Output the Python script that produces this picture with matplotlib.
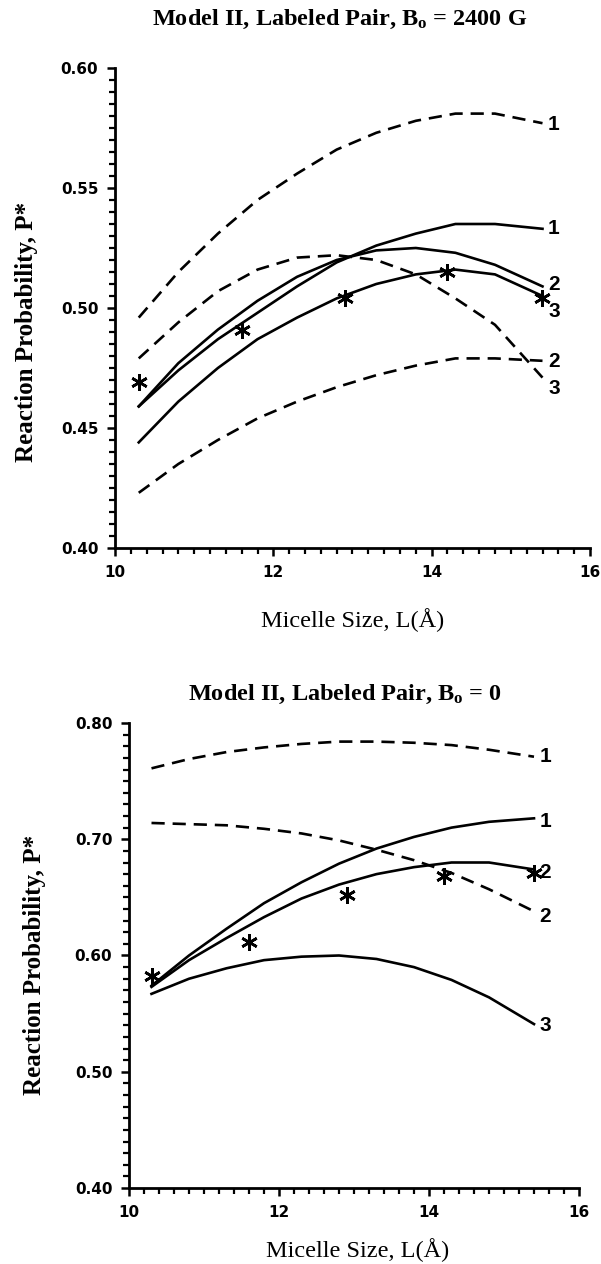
import matplotlib
matplotlib.use("Agg")
import matplotlib.pyplot as plt
from matplotlib.ticker import MultipleLocator

# micelle size grid used for the curves
L = [10.3, 10.8, 11.3, 11.8, 12.3, 12.8, 13.3, 13.8, 14.3, 14.8, 15.4]

# top panel: B0 = 2400 G
top_dash1 = [0.496, 0.515, 0.531, 0.545, 0.556, 0.566, 0.573, 0.578, 0.581, 0.581, 0.577]
top_dash2 = [0.423, 0.435, 0.445, 0.454, 0.461, 0.467, 0.472, 0.476, 0.479, 0.479, 0.478]
top_dash3 = [0.479, 0.494, 0.507, 0.516, 0.521, 0.522, 0.520, 0.514, 0.504, 0.493, 0.471]
top_solid1 = [0.459, 0.474, 0.487, 0.498, 0.509, 0.519, 0.526, 0.531, 0.535, 0.535, 0.533]
top_solid2 = [0.459, 0.477, 0.491, 0.503, 0.513, 0.520, 0.524, 0.525, 0.523, 0.518, 0.509]
top_solid3 = [0.444, 0.461, 0.475, 0.487, 0.496, 0.504, 0.510, 0.514, 0.516, 0.514, 0.505]

# simulation points (asterisks)
L_sim = [10.3, 11.6, 12.9, 14.2, 15.4]
top_sim = [0.469, 0.491, 0.504, 0.515, 0.504]

# bottom panel: B0 = 0
bot_dash1 = [0.761, 0.769, 0.775, 0.779, 0.782, 0.784, 0.784, 0.783, 0.781, 0.777, 0.771]
bot_dash2 = [0.714, 0.713, 0.712, 0.709, 0.705, 0.699, 0.691, 0.682, 0.671, 0.657, 0.638]
bot_solid1 = [0.574, 0.600, 0.623, 0.645, 0.663, 0.679, 0.692, 0.702, 0.710, 0.715, 0.718]
bot_solid2 = [0.573, 0.596, 0.615, 0.633, 0.649, 0.661, 0.670, 0.676, 0.680, 0.680, 0.674]
bot_solid3 = [0.567, 0.580, 0.589, 0.596, 0.599, 0.600, 0.597, 0.590, 0.579, 0.564, 0.541]
bot_sim = [0.582, 0.612, 0.652, 0.668, 0.671]

# curve end labels: (text, y)
top_labels = [("1", 0.5765), ("1", 0.5333), ("2", 0.5096), ("3", 0.4985), ("2", 0.4776), ("3", 0.4665)]
bot_labels = [("1", 0.771), ("1", 0.715), ("2", 0.6712), ("2", 0.6334), ("3", 0.540)]

SERIF = ["Liberation Serif", "DejaVu Serif"]
DASH = (5, 3)
LW = 1.9

plt.rcParams["mathtext.default"] = "regular"


def style_axis(ax, ymin, ymax, ymajor, yminor):
    ax.set_xlim(10, 16)
    ax.set_ylim(ymin, ymax)
    for s in ["top", "right"]:
        ax.spines[s].set_visible(False)
    for s in ["left", "bottom"]:
        ax.spines[s].set_linewidth(2.0)
    ax.xaxis.set_major_locator(MultipleLocator(2))
    ax.xaxis.set_minor_locator(MultipleLocator(0.2))
    ax.yaxis.set_major_locator(MultipleLocator(ymajor))
    ax.yaxis.set_minor_locator(MultipleLocator(yminor))
    ax.tick_params(which="major", direction="out", length=6, width=1.8, pad=6)
    ax.tick_params(which="minor", direction="out", length=4, width=1.6)
    ax.yaxis.set_major_formatter(plt.FormatStrFormatter("%.2f"))
    for lab in ax.get_xticklabels() + ax.get_yticklabels():
        lab.set_fontfamily("DejaVu Sans")
        lab.set_fontweight("bold")
        lab.set_fontsize(11)


def end_labels(ax, labels):
    for txt, y in labels:
        ax.text(15.47, y, txt, ha="left", va="center", fontsize=15,
                fontweight="bold", family=["Liberation Sans", "DejaVu Sans"])


fig = plt.figure(figsize=(6.01, 12.64), dpi=100)

# ---- top panel ----
ax1 = fig.add_axes([115 / 601, 1 - 548 / 1264, 475 / 601, 480 / 1264])
for y in [top_dash1, top_dash2, top_dash3]:
    ax1.plot(L, y, color="black", lw=LW, dashes=DASH)
for y in [top_solid1, top_solid2, top_solid3]:
    ax1.plot(L, y, color="black", lw=LW)
ax1.plot(L_sim, top_sim, ls="none", marker=(6, 2, 0), ms=12, mew=1.9, color="black")
end_labels(ax1, top_labels)
style_axis(ax1, 0.40, 0.60, 0.05, 0.005)
ax1.set_xlabel("Micelle Size, L(Å)", family=SERIF, fontsize=17.5)
ax1.xaxis.set_label_coords(0.50, -0.125)
ax1.set_ylabel("Reaction Probability, P*", family=SERIF, fontsize=18, fontweight="bold")
ax1.yaxis.set_label_coords(-0.162, 0.45)

# ---- bottom panel ----
ax2 = fig.add_axes([129 / 601, 1 - 1188 / 1264, 450 / 601, 465 / 1264])
for y in [bot_dash1, bot_dash2]:
    ax2.plot(L, y, color="black", lw=LW, dashes=DASH)
for y in [bot_solid1, bot_solid2, bot_solid3]:
    ax2.plot(L, y, color="black", lw=LW)
ax2.plot(L_sim, bot_sim, ls="none", marker=(6, 2, 0), ms=12, mew=1.9, color="black")
end_labels(ax2, bot_labels)
style_axis(ax2, 0.40, 0.80, 0.10, 0.01)
ax2.set_xlabel("Micelle Size, L(Å)", family=SERIF, fontsize=17.5)
ax2.xaxis.set_label_coords(0.507, -0.108)
ax2.set_ylabel("Reaction Probability, P*", family=SERIF, fontsize=18, fontweight="bold")
ax2.yaxis.set_label_coords(-0.185, 0.48)

fig.text(340 / 601, 1 - 19 / 1264, r"Model II, Labeled Pair, B$_o$ = 2400 G",
         ha="center", va="center", family=SERIF, fontsize=17.5, fontweight="bold")
fig.text(345 / 601, 1 - 694 / 1264, r"Model II, Labeled Pair, B$_o$ = 0",
         ha="center", va="center", family=SERIF, fontsize=17.5, fontweight="bold")

fig.savefig("out.png", dpi=100)
